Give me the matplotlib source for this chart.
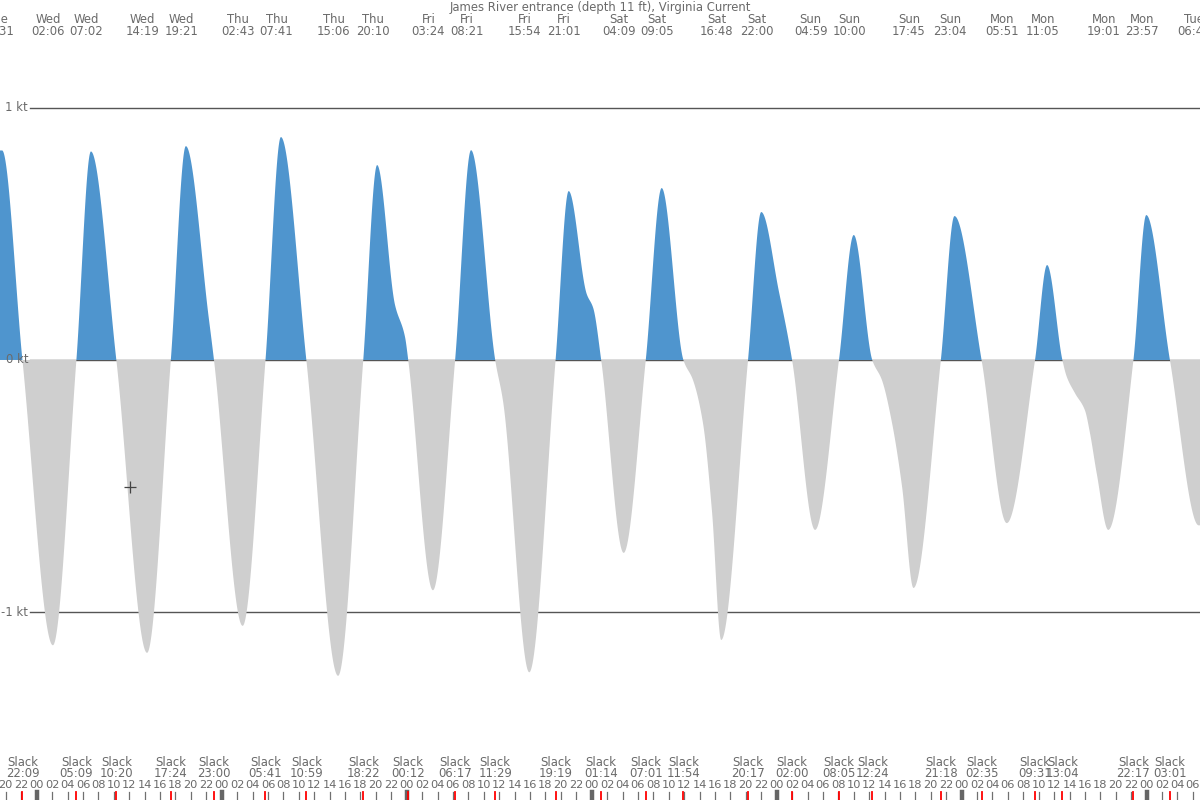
import numpy as np
import matplotlib
matplotlib.use("Agg")
import matplotlib.pyplot as plt
from matplotlib import transforms

# ---------------- data ----------------
title = "James River entrance (depth 11 ft), Virginia Current"

# maximum current events (flood > 0, ebb < 0), day offset relative to Wednesday
max_days = ['Tue', 'Wed', 'Wed', 'Wed', 'Wed', 'Thu', 'Thu', 'Thu', 'Thu',
            'Fri', 'Fri', 'Fri', 'Fri', 'Sat', 'Sat', 'Sat', 'Sat',
            'Sun', 'Sun', 'Sun', 'Sun', 'Mon', 'Mon', 'Mon', 'Mon', 'Tue']
max_day_offset = [-1, 0, 0, 0, 0, 1, 1, 1, 1, 2, 2, 2, 2, 3, 3, 3, 3,
                  4, 4, 4, 4, 5, 5, 5, 5, 6]
max_times = ['19:31', '02:06', '07:02', '14:19', '19:21', '02:43', '07:41', '15:06',
             '20:10', '03:24', '08:21', '15:54', '21:01', '04:09', '09:05', '16:48',
             '22:00', '04:59', '10:00', '17:45', '23:04', '05:51', '11:05', '19:01',
             '23:57', '06:45']
max_speed = [0.83, -1.13, 0.826, -1.16, 0.847, -1.053, 0.883, -1.251,
             0.772, -0.912, 0.831, -1.237, 0.669, -0.764, 0.681, -1.109,
             0.586, -0.673, 0.495, -0.903, 0.570, -0.646, 0.376, -0.673,
             0.574, -0.655]

# slack water events
slack_day_offset = [-1, 0, 0, 0, 0, 1, 1, 1, 2, 2, 2, 2, 3, 3, 3, 3,
                    4, 4, 4, 4, 5, 5, 5, 5, 6]
slack_times = ['22:09', '05:09', '10:20', '17:24', '23:00', '05:41', '10:59', '18:22',
               '00:12', '06:17', '11:29', '19:19', '01:14', '07:01', '11:54', '20:17',
               '02:00', '08:05', '12:24', '21:18', '02:35', '09:31', '13:04', '22:17',
               '03:01']

# extra curve points (hours from Wed 00:00, knots)
shape_hours = [22.35, 46.48, 47.78, 60.5, 71.35, 72.21,
               85.15, 86.44, 87.61, 96.30,
               109.66, 110.97, 112.26,
               133.63, 134.71, 136.0, 136.65, 137.52]
shape_speed = [0.16, 0.219, 0.092, -0.163, 0.262, 0.205,
               -0.08, -0.25, -0.6, 0.27,
               -0.08, -0.25, -0.5,
               -0.066, -0.132, -0.2, -0.29, -0.449]

x_range = (-4.761, 150.92)      # hours from Wed 00:00
y_range = (-1.743, 1.426)       # knots

# ---------------- helpers ----------------
def to_hours(day_off, hhmm):
    h, m = hhmm.split(':')
    return day_off * 24 + int(h) + int(m) / 60.0


def pchip(x, y, xi):
    x = np.asarray(x, float); y = np.asarray(y, float)
    n = len(x)
    h = np.diff(x)
    delta = np.diff(y) / h
    d = np.zeros(n)
    for k in range(1, n - 1):
        if delta[k - 1] * delta[k] > 0:
            w1 = 2 * h[k] + h[k - 1]
            w2 = h[k] + 2 * h[k - 1]
            d[k] = (w1 + w2) / (w1 / delta[k - 1] + w2 / delta[k])
    xi = np.clip(xi, x[0], x[-1])
    idx = np.clip(np.searchsorted(x, xi) - 1, 0, n - 2)
    t = (xi - x[idx]) / h[idx]
    h00 = 2 * t**3 - 3 * t**2 + 1
    h10 = t**3 - 2 * t**2 + t
    h01 = -2 * t**3 + 3 * t**2
    h11 = t**3 - t**2
    return (h00 * y[idx] + h10 * h[idx] * d[idx] + h01 * y[idx + 1]
            + h11 * h[idx] * d[idx + 1])


max_h = [to_hours(o, s) for o, s in zip(max_day_offset, max_times)]
slack_h = [to_hours(o, s) for o, s in zip(slack_day_offset, slack_times)]

kx = np.array(max_h + slack_h + shape_hours)
ky = np.array(max_speed + [0.0] * len(slack_h) + shape_speed)
order = np.argsort(kx)
kx, ky = kx[order], ky[order]

tt = np.linspace(x_range[0], x_range[1], 6000)
vv = pchip(kx, ky, tt)

# ---------------- figure ----------------
W, H = 1200, 800
fig = plt.figure(figsize=(12, 8), dpi=100)
ax = fig.add_axes([0, 0, 1, 1])
ax.set_xlim(*x_range)
ax.set_ylim(*y_range)
ax.axis('off')

txt_col = '#6a6a6a'
line_col = '#555555'
blue = '#4f95ce'
grey = '#cfcfcf'
font = 'DejaVu Sans'
fs = 8.4

# reference lines
for v in (1, 0, -1):
    ax.axhline(v, xmin=30 / W, xmax=1, color=line_col, lw=1.0, zorder=1)
yt = transforms.blended_transform_factory(ax.transAxes, ax.transData)
for v, lab in ((1, '1 kt'), (0, '0 kt'), (-1, '-1 kt')):
    ax.text(28 / W, v, lab, transform=yt, ha='right', va='center',
            color=txt_col, fontsize=fs, family=font, zorder=5)

ax.fill_between(tt, 0, vv, where=vv >= 0, interpolate=True, color=blue, lw=0, zorder=2)
ax.fill_between(tt, 0, vv, where=vv <= 0, interpolate=True, color=grey, lw=0, zorder=3)

# cursor cross
ax.plot([12.1], [-0.503], marker='+', color='#444444', markersize=9, mew=0.9, zorder=6)

bt = transforms.blended_transform_factory(ax.transData, ax.transAxes)

# title
ax.text(0.5, 1 - 7.5 / H, title, transform=ax.transAxes, ha='center', va='center',
        color=txt_col, fontsize=fs, family=font)

# top labels (max current)
shift = -0.58
for d, s, h in zip(max_days, max_times, max_h):
    ax.text(h + shift, 1 - 19.5 / H, d, transform=bt, ha='center', va='center',
            color=txt_col, fontsize=fs, family=font, clip_on=False)
    ax.text(h + shift, 1 - 31.5 / H, s, transform=bt, ha='center', va='center',
            color=txt_col, fontsize=fs, family=font, clip_on=False)

# bottom slack labels
for s, h in zip(slack_times, slack_h):
    ax.text(h, 1 - 762 / H, 'Slack', transform=bt, ha='center', va='center',
            color=txt_col, fontsize=fs, family=font)
    ax.text(h, 1 - 773.5 / H, s, transform=bt, ha='center', va='center',
            color=txt_col, fontsize=fs, family=font)

# hour ticks and labels
hours = np.arange(-4, 151, 2)
for hr in hours:
    lab = '%02d' % (hr % 24)
    ax.text(hr, 1 - 785.5 / H, lab, transform=bt, ha='center', va='center',
            color=txt_col, fontsize=8.2, family=font)
    if hr % 24 == 0:
        ax.axvline(hr, ymin=0, ymax=8.5 / H, color='#666666', lw=3.2, zorder=4)
    else:
        ax.axvline(hr, ymin=0, ymax=8.5 / H, color='#707070', lw=0.9, zorder=4)
for h in slack_h:
    ax.axvline(h, ymin=0, ymax=8.5 / H, color='#ff0000', lw=1.3, zorder=5)

fig.savefig('out.png', dpi=100)
